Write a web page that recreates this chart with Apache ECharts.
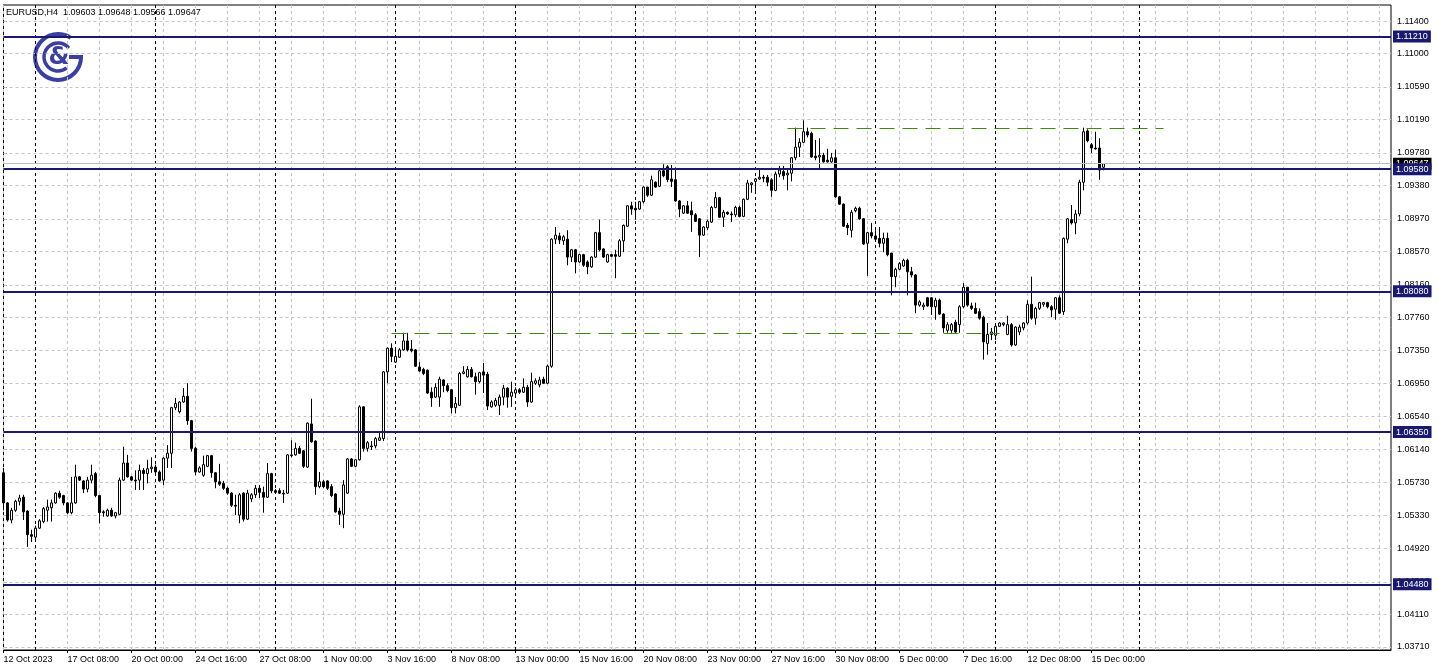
<!DOCTYPE html>
<html><head><meta charset="utf-8">
<script src="https://cdn.jsdelivr.net/npm/echarts@6/dist/echarts.min.js"></script>
<style>html,body{margin:0;padding:0;background:#fff}#c{width:1438px;height:671px}</style>
</head><body><div id="c"></div>
<script>
const headerText = 'EURUSD,H4  1.09603 1.09648 1.09566 1.09647';
const opens = [
1.0585,1.0548,1.0527,1.0539,1.0550,1.0555,1.0538,1.0509,1.0506,1.0517,
1.0525,1.0539,1.0542,1.0548,1.0560,1.0557,1.0548,1.0536,1.0548,1.0580,
1.0575,1.0565,1.0576,1.0584,1.0557,1.0537,1.0532,1.0539,1.0532,1.0534,
1.0576,1.0597,1.0580,1.0576,1.0576,1.0588,1.0584,1.0590,1.0592,1.0586,
1.0576,1.0603,1.0609,1.0665,1.0660,1.0672,1.0679,1.0649,1.0615,1.0586,
1.0582,1.0593,1.0606,1.0585,1.0574,1.0572,1.0566,1.0560,1.0545,1.0533,
1.0560,1.0528,1.0553,1.0558,1.0566,1.0561,1.0555,1.0584,1.0563,1.0563,
1.0560,1.0560,1.0606,1.0607,1.0615,1.0612,1.0592,1.0645,1.0624,1.0568,
1.0574,1.0575,1.0568,1.0559,1.0538,1.0534,1.0560,1.0602,1.0593,1.0601,
1.0666,1.0615,1.0618,1.0618,1.0625,1.0627,1.0709,1.0738,1.0721,1.0727,
1.0736,1.0747,1.0737,1.0736,1.0715,1.0712,1.0711,1.0684,1.0678,1.0678,
1.0699,1.0692,1.0687,1.0665,1.0668,1.0707,1.0703,1.0712,1.0703,1.0697,
1.0709,1.0706,1.0666,1.0668,1.0668,1.0678,1.0689,1.0679,1.0683,1.0687,
1.0684,1.0690,1.0672,1.0695,1.0693,1.0700,1.0695,1.0716,1.0872,1.0876,
1.0870,1.0872,1.0850,1.0859,1.0844,1.0853,1.0844,1.0838,1.0850,1.0880,
1.0860,1.0844,1.0853,1.0853,1.0851,1.0870,1.0888,1.0913,1.0910,1.0909,
1.0918,1.0936,1.0926,1.0942,1.0937,1.0956,1.0961,1.0946,1.0945,1.0919,
1.0904,1.0913,1.0907,1.0902,1.0897,1.0877,1.0886,1.0893,1.0911,1.0923,
1.0899,1.0905,1.0903,1.0902,1.0911,1.0900,1.0921,1.0939,1.0943,1.0946,
1.0948,1.0948,1.0945,1.0932,1.0952,1.0955,1.0951,1.0953,1.0972,1.0985,
1.0991,1.1004,1.1002,1.0974,1.0973,1.0975,1.0969,1.0967,1.0972,1.0924,
1.0915,1.0889,1.0883,1.0907,1.0910,1.0897,1.0867,1.0880,1.0876,1.0873,
1.0867,1.0873,1.0855,1.0826,1.0835,1.0839,1.0846,1.0832,1.0828,1.0791,
1.0789,1.0800,1.0800,1.0789,1.0797,1.0780,1.0760,1.0760,1.0770,1.0767,
1.0789,1.0813,1.0790,1.0787,1.0783,1.0776,1.0744,1.0755,1.0754,1.0765,
1.0767,1.0755,1.0767,1.0742,1.0758,1.0763,1.0769,1.0792,1.0775,1.0787,
1.0792,1.0794,1.0789,1.0786,1.0800,1.0783,1.0872,1.0896,1.0892,1.0903,
1.0942,1.1005,1.0988,1.0984,1.0984,1.09603];
const closes = [
1.0548,1.0527,1.0539,1.0550,1.0554,1.0537,1.0509,1.0507,1.0517,1.0526,
1.0541,1.0543,1.0548,1.0560,1.0555,1.0548,1.0536,1.0548,1.0580,1.0576,
1.0565,1.0576,1.0582,1.0557,1.0536,1.0536,1.0539,1.0532,1.0536,1.0576,
1.0597,1.0580,1.0576,1.0575,1.0588,1.0584,1.0590,1.0592,1.0586,1.0575,
1.0603,1.0609,1.0665,1.0670,1.0672,1.0679,1.0649,1.0615,1.0586,1.0591,
1.0595,1.0606,1.0585,1.0574,1.0571,1.0566,1.0560,1.0545,1.0544,1.0558,
1.0528,1.0560,1.0558,1.0566,1.0561,1.0555,1.0584,1.0563,1.0561,1.0560,
1.0559,1.0607,1.0607,1.0615,1.0609,1.0593,1.0646,1.0623,1.0568,1.0574,
1.0568,1.0566,1.0557,1.0537,1.0534,1.0570,1.0602,1.0593,1.0601,1.0666,
1.0615,1.0622,1.0617,1.0627,1.0628,1.0709,1.0738,1.0728,1.0728,1.0736,
1.0747,1.0736,1.0735,1.0716,1.0710,1.0707,1.0683,1.0677,1.0690,1.0700,
1.0692,1.0686,1.0665,1.0670,1.0707,1.0709,1.0712,1.0703,1.0697,1.0708,
1.0705,1.0667,1.0672,1.0674,1.0678,1.0689,1.0678,1.0684,1.0687,1.0684,
1.0690,1.0672,1.0697,1.0698,1.0699,1.0695,1.0716,1.0872,1.0877,1.0871,
1.0875,1.0850,1.0859,1.0844,1.0853,1.0840,1.0838,1.0850,1.0880,1.0859,
1.0850,1.0853,1.0851,1.0851,1.0870,1.0889,1.0913,1.0909,1.0908,1.0918,
1.0936,1.0926,1.0945,1.0936,1.0956,1.0950,1.0945,1.0943,1.0919,1.0909,
1.0913,1.0904,1.0902,1.0894,1.0877,1.0887,1.0894,1.0911,1.0923,1.0899,
1.0905,1.0903,1.0902,1.0911,1.0900,1.0921,1.0941,1.0941,1.0946,1.0948,
1.0947,1.0942,1.0932,1.0952,1.0957,1.0950,1.0953,1.0972,1.0985,1.0991,
1.1004,1.1000,1.0973,1.0972,1.0975,1.0967,1.0967,1.0972,1.0924,1.0915,
1.0888,1.0886,1.0905,1.0910,1.0897,1.0866,1.0880,1.0876,1.0872,1.0867,
1.0873,1.0853,1.0826,1.0835,1.0842,1.0846,1.0832,1.0828,1.0791,1.0795,
1.0791,1.0790,1.0789,1.0797,1.0780,1.0763,1.0767,1.0767,1.0758,1.0789,
1.0813,1.0791,1.0787,1.0781,1.0775,1.0746,1.0755,1.0758,1.0765,1.0769,
1.0769,1.0767,1.0742,1.0764,1.0764,1.0769,1.0792,1.0775,1.0787,1.0794,
1.0794,1.0789,1.0785,1.0800,1.0781,1.0873,1.0897,1.0892,1.0903,1.0942,
1.1004,1.0993,1.0984,1.0983,1.0957,1.09647];
const lows = [
1.0539,1.0525,1.0523,1.0537,1.0545,1.0527,1.0494,1.0500,1.0502,1.0516,
1.0523,1.0525,1.0525,1.0547,1.0553,1.0545,1.0534,1.0534,1.0547,1.0575,
1.0560,1.0561,1.0572,1.0555,1.0523,1.0531,1.0531,1.0531,1.0529,1.0533,
1.0575,1.0579,1.0575,1.0564,1.0564,1.0564,1.0572,1.0585,1.0584,1.0574,
1.0570,1.0591,1.0591,1.0662,1.0658,1.0671,1.0644,1.0611,1.0582,1.0585,
1.0580,1.0592,1.0579,1.0566,1.0569,1.0564,1.0558,1.0543,1.0533,1.0523,
1.0525,1.0527,1.0549,1.0554,1.0554,1.0536,1.0554,1.0560,1.0559,1.0559,
1.0548,1.0559,1.0604,1.0606,1.0608,1.0591,1.0591,1.0622,1.0558,1.0566,
1.0566,1.0564,1.0555,1.0536,1.0521,1.0517,1.0559,1.0592,1.0592,1.0600,
1.0611,1.0611,1.0613,1.0615,1.0624,1.0624,1.0695,1.0721,1.0720,1.0726,
1.0735,1.0734,1.0733,1.0715,1.0709,1.0705,1.0682,1.0666,1.0677,1.0666,
1.0684,1.0684,1.0658,1.0658,1.0667,1.0706,1.0702,1.0702,1.0681,1.0695,
1.0683,1.0662,1.0665,1.0666,1.0656,1.0668,1.0665,1.0666,1.0678,1.0682,
1.0683,1.0666,1.0671,1.0693,1.0690,1.0694,1.0694,1.0714,1.0866,1.0866,
1.0865,1.0840,1.0844,1.0830,1.0843,1.0838,1.0829,1.0837,1.0849,1.0857,
1.0849,1.0843,1.0850,1.0824,1.0850,1.0856,1.0887,1.0902,1.0896,1.0908,
1.0916,1.0924,1.0925,1.0935,1.0936,1.0948,1.0942,1.0936,1.0918,1.0899,
1.0903,1.0903,1.0881,1.0893,1.0850,1.0876,1.0883,1.0892,1.0910,1.0898,
1.0887,1.0902,1.0893,1.0899,1.0899,1.0899,1.0920,1.0929,1.0929,1.0945,
1.0942,1.0937,1.0924,1.0931,1.0948,1.0945,1.0932,1.0943,1.0969,1.0973,
1.0990,1.0997,1.0972,1.0969,1.0958,1.0966,1.0966,1.0966,1.0923,1.0914,
1.0887,1.0877,1.0874,1.0905,1.0896,1.0865,1.0827,1.0873,1.0871,1.0862,
1.0856,1.0851,1.0803,1.0813,1.0834,1.0838,1.0803,1.0825,1.0781,1.0789,
1.0785,1.0789,1.0779,1.0773,1.0779,1.0757,1.0757,1.0757,1.0757,1.0757,
1.0787,1.0789,1.0785,1.0780,1.0773,1.0724,1.0730,1.0748,1.0748,1.0764,
1.0765,1.0754,1.0740,1.0741,1.0754,1.0760,1.0767,1.0773,1.0767,1.0785,
1.0789,1.0787,1.0776,1.0773,1.0780,1.0779,1.0867,1.0890,1.0878,1.0900,
1.0932,1.0991,1.0978,1.0982,1.0945,1.09566];
const highs = [
1.0591,1.0549,1.0542,1.0552,1.0558,1.0558,1.0539,1.0515,1.0520,1.0528,
1.0543,1.0552,1.0552,1.0561,1.0563,1.0558,1.0549,1.0580,1.0595,1.0581,
1.0576,1.0580,1.0595,1.0586,1.0558,1.0539,1.0541,1.0542,1.0537,1.0579,
1.0617,1.0607,1.0581,1.0588,1.0595,1.0591,1.0601,1.0604,1.0595,1.0588,
1.0604,1.0619,1.0666,1.0677,1.0673,1.0689,1.0695,1.0650,1.0617,1.0593,
1.0606,1.0607,1.0607,1.0586,1.0596,1.0575,1.0568,1.0561,1.0558,1.0560,
1.0561,1.0564,1.0560,1.0570,1.0570,1.0568,1.0597,1.0585,1.0565,1.0566,
1.0564,1.0608,1.0625,1.0622,1.0618,1.0613,1.0647,1.0676,1.0625,1.0586,
1.0576,1.0576,1.0571,1.0560,1.0542,1.0576,1.0603,1.0603,1.0602,1.0668,
1.0667,1.0624,1.0624,1.0629,1.0634,1.0710,1.0739,1.0744,1.0736,1.0738,
1.0757,1.0757,1.0748,1.0737,1.0721,1.0714,1.0712,1.0690,1.0695,1.0703,
1.0700,1.0695,1.0688,1.0678,1.0709,1.0716,1.0716,1.0715,1.0708,1.0709,
1.0720,1.0709,1.0674,1.0677,1.0681,1.0693,1.0690,1.0697,1.0690,1.0689,
1.0701,1.0693,1.0708,1.0701,1.0703,1.0703,1.0718,1.0873,1.0887,1.0880,
1.0877,1.0883,1.0860,1.0860,1.0854,1.0854,1.0846,1.0851,1.0881,1.0896,
1.0861,1.0854,1.0854,1.0859,1.0872,1.0890,1.0914,1.0918,1.0918,1.0919,
1.0937,1.0936,1.0950,1.0943,1.0957,1.0964,1.0963,1.0963,1.0960,1.0920,
1.0914,1.0919,1.0918,1.0904,1.0898,1.0888,1.0896,1.0913,1.0930,1.0924,
1.0908,1.0906,1.0906,1.0913,1.0913,1.0922,1.0945,1.0942,1.0947,1.0957,
1.0951,1.0951,1.0947,1.0955,1.0962,1.0962,1.0957,1.0973,1.1009,1.0996,
1.1018,1.1009,1.1004,1.0994,1.0996,1.0978,1.0983,1.0978,1.0982,1.0925,
1.0916,1.0892,1.0908,1.0912,1.0912,1.0898,1.0881,1.0892,1.0883,1.0887,
1.0880,1.0880,1.0855,1.0837,1.0844,1.0848,1.0848,1.0838,1.0829,1.0797,
1.0794,1.0801,1.0801,1.0800,1.0799,1.0781,1.0770,1.0769,1.0773,1.0791,
1.0818,1.0813,1.0794,1.0794,1.0787,1.0778,1.0769,1.0763,1.0769,1.0770,
1.0770,1.0778,1.0769,1.0765,1.0767,1.0770,1.0797,1.0826,1.0789,1.0795,
1.0795,1.0795,1.0791,1.0801,1.0803,1.0874,1.0898,1.0914,1.0908,1.0945,
1.1009,1.1007,1.0990,1.1004,1.0996,1.09648];

const xTickIndex = [0,16,32,48,64,80,96,112,128,144,160,176,192,208,224,240,256,272];
const xTickLabels = ['12 Oct 2023','17 Oct 08:00','20 Oct 00:00','24 Oct 16:00','27 Oct 08:00','1 Nov 00:00','3 Nov 16:00','8 Nov 08:00','13 Nov 00:00','15 Nov 16:00','20 Nov 08:00','23 Nov 00:00','27 Nov 16:00','30 Nov 08:00','5 Dec 00:00','7 Dec 16:00','12 Dec 08:00','15 Dec 00:00'];
const yTickLabels = ['1.11400','1.11000','1.10590','1.10190','1.09780','1.09380','1.08970','1.08570','1.08160','1.07760','1.07350','1.06950','1.06540','1.06140','1.05730','1.05330','1.04920','1.04510','1.04110','1.03710'];
const levelPrices = [1.11210, 1.09580, 1.08080, 1.06350, 1.04480];
const bidPrice = 1.09647;
const weekSeparators = [8,38,68,98,128,158,188,218,248,284];
const trendFrom = [196, 97];
const trendTo = [290, 249];
const trendPrice = [1.10082, 1.07567];

const FONT = 'Liberation Sans, Arial, sans-serif';
const NAVY = '#191970';
const yTicks = yTickLabels.map(Number);
const xGridLines = [];
for (let v = 0; v <= 344; v += 8) xGridLines.push(v);

const candleData = opens.map((o, i) => [i, o, closes[i], lows[i], highs[i]]);

const chart = echarts.init(document.getElementById('c'), null, {renderer: 'canvas'});
chart.setOption({
  animation: false,
  backgroundColor: '#ffffff',
  title: {
    text: headerText, left: 6, top: 8, padding: 0,
    textStyle: {fontSize: 9, fontWeight: 'normal', color: '#000', fontFamily: FONT}
  },
  grid: {left: 3.5, right: 47, top: 5, bottom: 21, show: true, borderColor: '#000', borderWidth: 1, backgroundColor: 'transparent'},
  xAxis: {
    type: 'value', min: 0, max: 346.875,
    axisLine: {show: true, lineStyle: {color: '#000', width: 1}},
    axisTick: {show: true, length: 3, customValues: xTickIndex, lineStyle: {color: '#000'}},
    axisLabel: {
      customValues: xTickIndex, align: 'left', margin: 5, fontSize: 9, color: '#000', fontFamily: FONT,
      formatter: v => xTickLabels[xTickIndex.indexOf(Math.round(v))] || ''
    },
    splitLine: {show: false}
  },
  yAxis: {
    type: 'value', position: 'right', min: 1.03673, max: 1.11597, scale: true,
    axisLine: {show: true, lineStyle: {color: '#000', width: 1}},
    axisTick: {show: true, length: 3, customValues: yTicks, lineStyle: {color: '#000'}},
    axisLabel: {customValues: yTicks, margin: 6, fontSize: 9, color: '#000', fontFamily: FONT, formatter: v => v.toFixed(5)},
    splitLine: {show: false}
  },
  graphic: [
    {type: 'arc', z: 1, shape: {cx: 58, cy: 57, r: 23, startAngle: 0, endAngle: 5.3, clockwise: true},
     style: {stroke: '#3b3f9e', lineWidth: 4, fill: null}},
    {type: 'line', z: 1, shape: {x1: 69, y1: 57, x2: 83, y2: 57}, style: {stroke: '#3b3f9e', lineWidth: 4}},
    {type: 'arc', z: 1, shape: {cx: 58, cy: 57, r: 14, startAngle: 0.9, endAngle: 5.6, clockwise: true},
     style: {stroke: '#3b3f9e', lineWidth: 3.5, fill: null}},
    {type: 'text', z: 1, style: {text: '&', x: 59, y: 58, fontSize: 24, fontWeight: 'bold', fill: '#3b3f9e', align: 'center', verticalAlign: 'middle', fontFamily: 'DejaVu Sans'}}
  ],
  series: [
    {
      type: 'line', data: [], silent: true,
      markLine: {
        z: 1, silent: true, precision: 6, symbol: ['none', 'none'], label: {show: false},
        data: [
          ...xGridLines.map(v => ({xAxis: v, lineStyle: {color: '#c4c4c4', width: 1, type: [3, 3]}})),
          ...yTicks.map(v => ({yAxis: v, lineStyle: {color: '#c4c4c4', width: 1, type: [3, 3]}})),
          ...weekSeparators.map(v => ({xAxis: v, lineStyle: {color: '#000', width: 1, type: [3, 3]}}))
        ]
      }
    },
    {
      type: 'candlestick', data: candleData, barWidth: 2, z: 3,
      itemStyle: {color: '#ffffff', color0: '#000000', borderColor: '#000000', borderColor0: '#000000', borderWidth: 1}
    },
    {
      type: 'line', data: [], silent: true,
      markLine: {
        z: 5, silent: true, precision: 6, symbol: ['none', 'none'],
        data: [
          {yAxis: bidPrice, lineStyle: {color: '#c0c0c0', width: 1, type: 'solid'},
           label: {show: true, position: 'end', distance: 2, formatter: p => Number(p.value).toFixed(5), backgroundColor: '#000', color: '#fff', fontSize: 9, fontFamily: FONT, padding: [2, 3, 1, 3]}},
          ...trendFrom.map((f, k) => [
            {coord: [f, trendPrice[k]], lineStyle: {color: '#3f8a0c', width: 1, type: [15, 8]}, label: {show: false}},
            {coord: [trendTo[k], trendPrice[k]]}
          ])
        ]
      }
    },
    {
      type: 'line', data: [], silent: true,
      markLine: {
        z: 6, silent: true, precision: 6, symbol: ['none', 'none'],
        data: levelPrices.map(v => ({
          yAxis: v, lineStyle: {color: NAVY, width: 2, type: 'solid'},
          label: {show: true, position: 'end', distance: 2, formatter: p => Number(p.value).toFixed(5), backgroundColor: NAVY, color: '#fff', fontSize: 9, fontFamily: FONT, padding: [2, 3, 1, 3]}
        }))
      }
    }
  ]
});
</script>
</body></html>
